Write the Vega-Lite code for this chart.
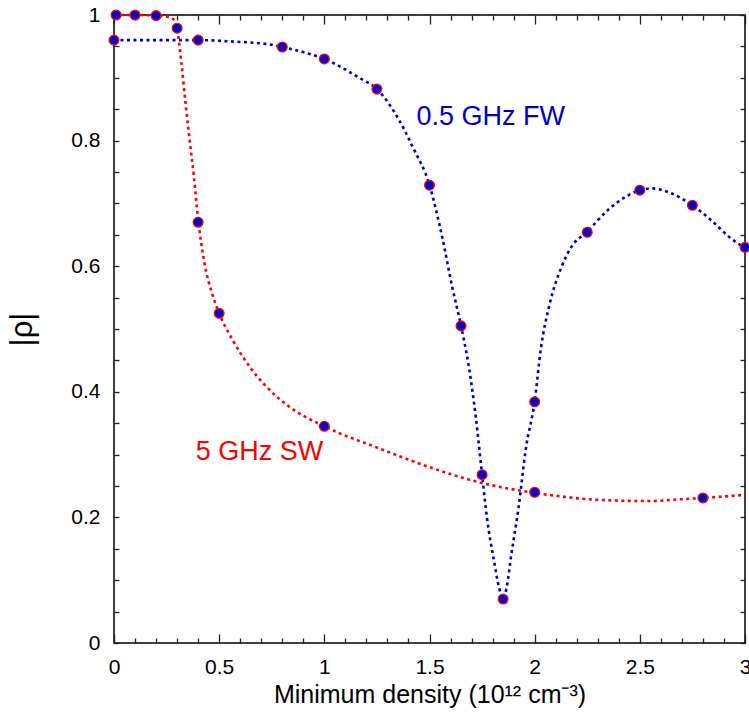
{
  "$schema": "https://vega.github.io/schema/vega-lite/v6.json",
  "width": 631,
  "height": 628,
  "autosize": {"type": "none"},
  "padding": {"left": 114, "top": 15, "right": 4, "bottom": 74},
  "background": "white",
  "config": {
    "view": {"stroke": "black", "strokeWidth": 1.5},
    "font": "Liberation Sans",
    "axis": {
      "domain": false,
      "grid": false,
      "labelFont": "Liberation Sans",
      "labelFontSize": 21,
      "labelColor": "black",
      "titleFont": "Liberation Sans",
      "titleColor": "black",
      "titleFontWeight": "normal",
      "tickColor": "#222",
      "tickWidth": 1.3,
      "labelFlush": false,
      "labelOverlap": false,
      "labelBound": false
    }
  },
  "datasets": {
    "curves": [
      {"series": "SW", "x": 0, "y": 1.0},
      {"series": "SW", "x": 0.1, "y": 1.0},
      {"series": "SW", "x": 0.2, "y": 0.999},
      {"series": "SW", "x": 0.26, "y": 0.997},
      {"series": "SW", "x": 0.29, "y": 0.99},
      {"series": "SW", "x": 0.3, "y": 0.979},
      {"series": "SW", "x": 0.32, "y": 0.925},
      {"series": "SW", "x": 0.34, "y": 0.86},
      {"series": "SW", "x": 0.36, "y": 0.8},
      {"series": "SW", "x": 0.38, "y": 0.742},
      {"series": "SW", "x": 0.4, "y": 0.675},
      {"series": "SW", "x": 0.43, "y": 0.605},
      {"series": "SW", "x": 0.465, "y": 0.558},
      {"series": "SW", "x": 0.5, "y": 0.525},
      {"series": "SW", "x": 0.565, "y": 0.482},
      {"series": "SW", "x": 0.645, "y": 0.44},
      {"series": "SW", "x": 0.725, "y": 0.408},
      {"series": "SW", "x": 0.834, "y": 0.376},
      {"series": "SW", "x": 1.0, "y": 0.345},
      {"series": "SW", "x": 1.26, "y": 0.31},
      {"series": "SW", "x": 1.5, "y": 0.28},
      {"series": "SW", "x": 1.735, "y": 0.256},
      {"series": "SW", "x": 2.0, "y": 0.239},
      {"series": "SW", "x": 2.11, "y": 0.234},
      {"series": "SW", "x": 2.3, "y": 0.228},
      {"series": "SW", "x": 2.54, "y": 0.226},
      {"series": "SW", "x": 2.7, "y": 0.229},
      {"series": "SW", "x": 2.8, "y": 0.231},
      {"series": "SW", "x": 3.0, "y": 0.236},
      {"series": "FW", "x": 0, "y": 0.96},
      {"series": "FW", "x": 0.2, "y": 0.96},
      {"series": "FW", "x": 0.4, "y": 0.96},
      {"series": "FW", "x": 0.55, "y": 0.958},
      {"series": "FW", "x": 0.74, "y": 0.953},
      {"series": "FW", "x": 0.8, "y": 0.949},
      {"series": "FW", "x": 0.93, "y": 0.938},
      {"series": "FW", "x": 1.0, "y": 0.93},
      {"series": "FW", "x": 1.166, "y": 0.9},
      {"series": "FW", "x": 1.25, "y": 0.882},
      {"series": "FW", "x": 1.355, "y": 0.833},
      {"series": "FW", "x": 1.42, "y": 0.79},
      {"series": "FW", "x": 1.5, "y": 0.729},
      {"series": "FW", "x": 1.56, "y": 0.647},
      {"series": "FW", "x": 1.608, "y": 0.567},
      {"series": "FW", "x": 1.65, "y": 0.505},
      {"series": "FW", "x": 1.687, "y": 0.44},
      {"series": "FW", "x": 1.72, "y": 0.36},
      {"series": "FW", "x": 1.75, "y": 0.268},
      {"series": "FW", "x": 1.773, "y": 0.2},
      {"series": "FW", "x": 1.806, "y": 0.132},
      {"series": "FW", "x": 1.83, "y": 0.089},
      {"series": "FW", "x": 1.85, "y": 0.07},
      {"series": "FW", "x": 1.867, "y": 0.089},
      {"series": "FW", "x": 1.89, "y": 0.143},
      {"series": "FW", "x": 1.924, "y": 0.217},
      {"series": "FW", "x": 1.957, "y": 0.307},
      {"series": "FW", "x": 2.0, "y": 0.385},
      {"series": "FW", "x": 2.03, "y": 0.47},
      {"series": "FW", "x": 2.07, "y": 0.538},
      {"series": "FW", "x": 2.128, "y": 0.599},
      {"series": "FW", "x": 2.175, "y": 0.631},
      {"series": "FW", "x": 2.25, "y": 0.655},
      {"series": "FW", "x": 2.35, "y": 0.69},
      {"series": "FW", "x": 2.43, "y": 0.71},
      {"series": "FW", "x": 2.5, "y": 0.721},
      {"series": "FW", "x": 2.555, "y": 0.724},
      {"series": "FW", "x": 2.635, "y": 0.718},
      {"series": "FW", "x": 2.75, "y": 0.697},
      {"series": "FW", "x": 2.84, "y": 0.673},
      {"series": "FW", "x": 2.93, "y": 0.645},
      {"series": "FW", "x": 3.0, "y": 0.629}
    ],
    "points": [
      {"series": "SW", "x": 0.01, "y": 1.0},
      {"series": "SW", "x": 0.1, "y": 1.0},
      {"series": "SW", "x": 0.2, "y": 0.999},
      {"series": "SW", "x": 0.3, "y": 0.979},
      {"series": "SW", "x": 0.4, "y": 0.67},
      {"series": "SW", "x": 0.5, "y": 0.525},
      {"series": "SW", "x": 1.0, "y": 0.345},
      {"series": "SW", "x": 2.0, "y": 0.24},
      {"series": "SW", "x": 2.8, "y": 0.231},
      {"series": "FW", "x": 0, "y": 0.96},
      {"series": "FW", "x": 0.4, "y": 0.96},
      {"series": "FW", "x": 0.8, "y": 0.949},
      {"series": "FW", "x": 1.0, "y": 0.93},
      {"series": "FW", "x": 1.25, "y": 0.882},
      {"series": "FW", "x": 1.5, "y": 0.729},
      {"series": "FW", "x": 1.65, "y": 0.505},
      {"series": "FW", "x": 1.75, "y": 0.268},
      {"series": "FW", "x": 1.85, "y": 0.07},
      {"series": "FW", "x": 2.0, "y": 0.384},
      {"series": "FW", "x": 2.25, "y": 0.654},
      {"series": "FW", "x": 2.5, "y": 0.721},
      {"series": "FW", "x": 2.75, "y": 0.697},
      {"series": "FW", "x": 3.0, "y": 0.63}
    ],
    "labels": [
      {"series": "FW", "text": "0.5 GHz FW", "x": 1.438, "y": 0.825},
      {"series": "SW", "text": "5 GHz SW", "x": 0.389, "y": 0.291}
    ]
  },
  "resolve": {"axis": {"x": "independent", "y": "independent"}},
  "layer": [
    {
      "data": {"name": "curves"},
      "transform": [{"filter": "datum.series === 'SW'"}],
      "mark": {"type": "line", "interpolate": "monotone", "strokeWidth": 2.6, "strokeDash": [3, 3.5], "color": "#ff0000"},
      "encoding": {
        "x": {
          "field": "x", "type": "quantitative",
          "scale": {"domain": [0, 3], "nice": false, "zero": false},
          "axis": {
            "orient": "bottom",
            "values": [0, 0.1, 0.2, 0.3, 0.4, 0.5, 0.6, 0.7, 0.8, 0.9, 1, 1.1, 1.2, 1.3, 1.4, 1.5, 1.6, 1.7, 1.8, 1.9, 2, 2.1, 2.2, 2.3, 2.4, 2.5, 2.6, 2.7, 2.8, 2.9, 3],
            "format": "~g",
            "labelExpr": "abs(datum.value*2 - round(datum.value*2)) < 0.001 ? datum.label : ''",
            "tickSize": {"condition": {"test": "abs(datum.value*2 - round(datum.value*2)) < 0.001", "value": -9}, "value": -5},
            "labelPadding": 22,
            "title": "Minimum density (10¹² cm⁻³)",
            "titleFontSize": 25,
            "titlePadding": 1
          }
        },
        "y": {
          "field": "y", "type": "quantitative",
          "scale": {"domain": [0, 1], "nice": false, "zero": false},
          "axis": {
            "orient": "left",
            "values": [0, 0.05, 0.1, 0.15, 0.2, 0.25, 0.3, 0.35, 0.4, 0.45, 0.5, 0.55, 0.6, 0.65, 0.7, 0.75, 0.8, 0.85, 0.9, 0.95, 1],
            "format": "~g",
            "labelExpr": "abs(datum.value*5 - round(datum.value*5)) < 0.001 ? datum.label : ''",
            "tickSize": -5,
            "labelPadding": 19,
            "title": "|ρ|",
            "titleFontSize": 31,
            "titlePadding": 32
          }
        }
      }
    },
    {
      "data": {"name": "curves"},
      "transform": [{"filter": "datum.series === 'FW'"}],
      "mark": {"type": "line", "interpolate": "monotone", "strokeWidth": 2.6, "strokeDash": [3, 3.5], "color": "#0000cc"},
      "encoding": {
        "x": {
          "field": "x", "type": "quantitative",
          "scale": {"domain": [0, 3], "nice": false, "zero": false},
          "axis": {
            "orient": "top",
            "values": [0, 0.1, 0.2, 0.3, 0.4, 0.5, 0.6, 0.7, 0.8, 0.9, 1, 1.1, 1.2, 1.3, 1.4, 1.5, 1.6, 1.7, 1.8, 1.9, 2, 2.1, 2.2, 2.3, 2.4, 2.5, 2.6, 2.7, 2.8, 2.9, 3],
            "labels": false,
            "tickSize": {"condition": {"test": "abs(datum.value*2 - round(datum.value*2)) < 0.001", "value": -9}, "value": -5},
            "title": null
          }
        },
        "y": {
          "field": "y", "type": "quantitative",
          "scale": {"domain": [0, 1], "nice": false, "zero": false},
          "axis": {
            "orient": "right",
            "values": [0, 0.05, 0.1, 0.15, 0.2, 0.25, 0.3, 0.35, 0.4, 0.45, 0.5, 0.55, 0.6, 0.65, 0.7, 0.75, 0.8, 0.85, 0.9, 0.95, 1],
            "labels": false,
            "tickSize": -5,
            "title": null
          }
        }
      }
    },
    {
      "data": {"name": "points"},
      "mark": {"type": "point", "shape": "circle", "filled": true, "fill": "#0000cc", "stroke": "#ff0000", "strokeWidth": 1.3, "size": 95, "opacity": 1},
      "encoding": {
        "x": {"field": "x", "type": "quantitative", "axis": null},
        "y": {"field": "y", "type": "quantitative", "axis": null}
      }
    },
    {
      "data": {"name": "labels"},
      "mark": {"type": "text", "align": "left", "baseline": "alphabetic", "fontSize": 27, "font": "Liberation Sans"},
      "encoding": {
        "x": {"field": "x", "type": "quantitative", "axis": null},
        "y": {"field": "y", "type": "quantitative", "axis": null},
        "text": {"field": "text"},
        "color": {"field": "series", "type": "nominal", "scale": {"domain": ["SW", "FW"], "range": ["#ff0000", "#0000cc"]}, "legend": null}
      }
    }
  ]
}
